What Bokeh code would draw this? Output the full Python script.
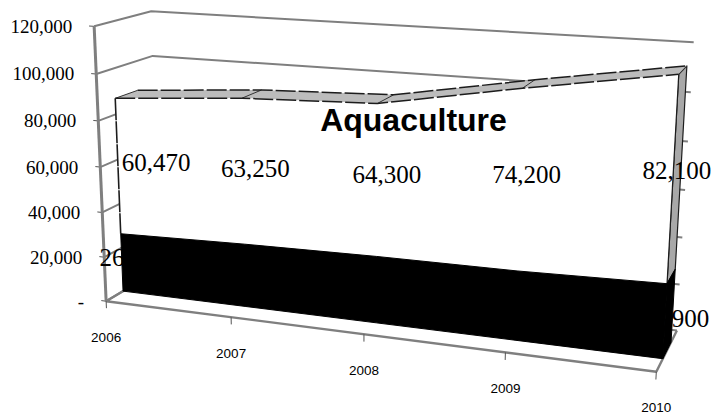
import numpy as np
from bokeh.core.properties import value
from bokeh.embed import file_html
from bokeh.models import Range1d
from bokeh.plotting import figure
from bokeh.resources import INLINE

years = ["2006", "2007", "2008", "2009", "2010"]
capture = [26500, 28000, 29000, 29400, 30900]
aquaculture = [60470, 63250, 64300, 74200, 82100]
y_ticks = [0, 20000, 40000, 60000, 80000, 100000, 120000]
y_labels = ["-", "20,000", "40,000", "60,000", "80,000", "100,000", "120,000"]
title = "Aquaculture"

V_MAX = 120000.0
Z_FRONT, Z_BACK = 0.3, 0.7


def calibrate(anchors):
    """Least-squares 3x4 camera from (u, v, z) -> (x, y) pairs."""
    rows, rhs = [], []
    for (u, v, z), (x, y) in anchors:
        w = v / V_MAX
        rows.append([u, w, z, 1, 0, 0, 0, 0, -x * u, -x * w, -x * z])
        rows.append([0, 0, 0, 0, u, w, z, 1, -y * u, -y * w, -y * z])
        rhs += [x, y]
    sol = np.linalg.lstsq(np.array(rows, float), np.array(rhs, float), rcond=None)[0]
    return np.append(sol, 1.0).reshape(3, 4)


CAMERA = calibrate([
    ((0, 0, 0), (107, 301)), ((0, V_MAX, 0), (92, 27)),
    ((0, V_MAX, 1), (152, 11)), ((0, 0, 1), (158, 269)),
    ((4, 0, 0), (657, 372)), ((4, 0, 1), (677, 330)),
    ((4, V_MAX, 1), (693, 43)), ((1, 0, 0), (231, 317)),
    ((2, 0, 0), (363, 334)), ((3, 0, 0), (505, 352)),
    ((0, 87000, 0.3), (115, 97)), ((0, 87000, 0.7), (137, 89)),
    ((4, 113000, 0.3), (678, 73)), ((4, 113000, 0.7), (687, 65)),
    ((0, 0, 0.3), (123, 291)), ((4, 0, 0.3), (660, 358)),
    ((4, 30900, 0.3), (667, 282)), ((0, 26500, 0.3), (120, 232)),
])


def project(u, v, z):
    q = CAMERA @ np.array([u, v / V_MAX, z, 1.0])
    return q[0] / q[2], q[1] / q[2]


def path(points):
    xy = [project(*pt) for pt in points]
    return [a for a, _ in xy], [b for _, b in xy]


p = figure(width=711, height=414, output_backend="svg", toolbar_location=None,
           x_range=Range1d(0, 711), y_range=Range1d(414, 0),
           x_axis_type=None, y_axis_type=None, min_border=0,
           outline_line_color=None, background_fill_color="white",
           border_fill_color="white")
p.grid.visible = False

GRID = "#7f7f7f"
EDGE = "#1c1c1c"
n = len(years)
totals = [a + b for a, b in zip(capture, aquaculture)]

# Walls: gridlines run along the left wall and then the back wall.
for tick in y_ticks:
    xs, ys = path([(0, tick, 0), (0, tick, 1), (4, tick, 1)])
    p.line(xs, ys, line_color=GRID, line_width=2)
    xs, ys = path([(-0.04, tick, 0), (0, tick, 0)])
    p.line(xs, ys, line_color="#555555", line_width=1)

# Vertical axis and floor edges.
xs, ys = path([(0, 0, 0), (0, V_MAX, 0)])
p.line(xs, ys, line_color=GRID, line_width=3)
xs, ys = path([(0, 0, 1), (0, 0, 0), (4, 0, 0), (4, 0, 1)])
p.line(xs, ys, line_color=GRID, line_width=2.4)
for i in range(n):
    xs, ys = path([(i, 0, 0), (i, -3200, 0)])
    p.line(xs, ys, line_color="#555555", line_width=1)

# Aquaculture band: end cap, top surface, then front face.
xs, ys = path([(4, totals[4], Z_FRONT), (4, totals[4], Z_BACK),
               (4, capture[4], Z_BACK), (4, capture[4], Z_FRONT)])
p.patch(xs, ys, fill_color="#a8a8a8", line_color=EDGE, line_width=1.2)

pts = [(i, totals[i], Z_FRONT) for i in range(n)] + [(i, totals[i], Z_BACK) for i in reversed(range(n))]
xs, ys = path(pts)
p.patch(xs, ys, fill_color="#bcbcbc", line_color=None)
for i in range(n):
    xs, ys = path([(i, totals[i], Z_FRONT), (i, totals[i], Z_BACK)])
    p.line(xs, ys, line_color="#333333", line_width=1)

pts = [(i, totals[i], Z_FRONT) for i in range(n)] + [(i, capture[i], Z_FRONT) for i in reversed(range(n))]
xs, ys = path(pts)
p.patch(xs, ys, fill_color="white", line_color=None)
for z in (Z_FRONT, Z_BACK):
    xs, ys = path([(i, totals[i], z) for i in range(n)])
    p.line(xs, ys, line_color=EDGE, line_width=1.5, line_dash="20 3")
xs, ys = path([(0, totals[0], Z_FRONT), (0, capture[0], Z_FRONT)])
p.line(xs, ys, line_color=EDGE, line_width=1.6, line_dash="22 1")
xs, ys = path([(4, totals[4], Z_FRONT), (4, capture[4], Z_FRONT)])
p.line(xs, ys, line_color=EDGE, line_width=1.2)

# Lower band labels sit underneath the band, so only their outer digits show.
font = value("Liberation Serif")
for i, (val, dx, dy) in enumerate(zip(capture, [12, 0, 0, 0, 10], [-5, 0, 0, 0, -3])):
    x, y = project(i, val / 2, Z_FRONT)
    p.text([x + dx], [y + dy], text=[f"{val:,}"], text_font=font, text_font_size="25px",
           text_align="center", text_baseline="middle", text_color="black")

# Capture band: end cap and front face.
xs, ys = path([(4, capture[4], Z_FRONT), (4, capture[4], Z_BACK), (4, 0, Z_BACK), (4, 0, Z_FRONT)])
p.patch(xs, ys, fill_color="black", line_color="black")
pts = [(i, capture[i], Z_FRONT) for i in range(n)] + [(i, 0, Z_FRONT) for i in reversed(range(n))]
xs, ys = path(pts)
p.patch(xs, ys, fill_color="black", line_color="black")

# Aquaculture value labels.
for i, (val, dx, dy) in enumerate(zip(aquaculture, [38, 12, 10, 7, 4], [-4, -4, -6, -7, -10])):
    x, y = project(i, capture[i] + val / 2, Z_FRONT)
    p.text([x + dx], [y + dy], text=[f"{val:,}"], text_font=font, text_font_size="25px",
           text_align="center", text_baseline="middle", text_color="black")

# Axis labels follow the projected ticks.
for tick, label in zip(y_ticks, y_labels):
    x, y = project(0, tick, 0)
    p.text([x - 22], [y], text=[label], text_font=font, text_font_size="19px",
           text_align="right", text_baseline="middle", text_color="black")
for i, label in enumerate(years):
    x, y = project(i, 0, 0)
    p.text([x], [y + 36], text=[label], text_font=value("Liberation Sans"), text_font_size="13.5px",
           text_align="center", text_baseline="middle", text_color="black")

p.text([413], [119], text=[title], text_font=value("Liberation Sans"), text_font_size="32px",
       text_font_style="bold", text_align="center", text_baseline="middle", text_color="black")

open("out.html", "w").write(file_html(p, INLINE))
